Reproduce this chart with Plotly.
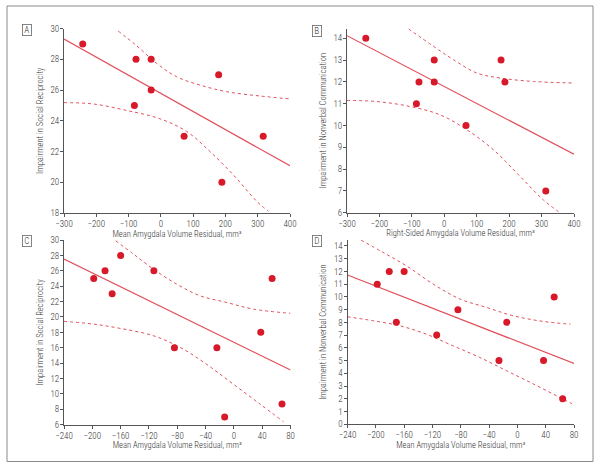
import plotly.graph_objects as go

# ---------------- data ----------------
A_x = [-242, -77, -30, -30, -82, 72, 179, 189, 317]
A_y = [29, 28, 28, 26, 25, 23, 27, 20, 23]
A_fit_x = [-300, 400]
A_fit_y = [29.31, 21.07]
A_up_x = [-132, -75, -13, 49, 121, 204, 307, 400]
A_up_y = [29.83, 28.88, 27.73, 26.86, 26.32, 25.89, 25.61, 25.42]
A_lo_x = [-300, -209, -106, -3, 80, 152, 224, 297, 333]
A_lo_y = [25.18, 25.09, 24.67, 24.13, 23.30, 22.0, 20.49, 18.76, 18.11]

B_x = [-242, -78, -86, -31, -31, 67, 175, 187, 313]
B_y = [14, 12, 11, 13, 12, 10, 13, 12, 7]
B_fit_x = [-300, 400]
B_fit_y = [14.12, 8.68]
B_up_x = [-110, -33, 28, 100, 172, 275, 400]
B_up_y = [14.43, 13.63, 13.02, 12.41, 12.18, 12.02, 11.95]
B_lo_x = [-300, -208, -105, -13, 70, 152, 234, 306, 352]
B_lo_y = [11.15, 11.10, 10.87, 10.49, 9.80, 8.88, 7.66, 6.58, 6.05]

C_x = [-198, -182, -172, -160, -113, -84, -24, -13, 38, 54, 68]
C_y = [25, 26, 23, 28, 26, 16, 16, 7, 18, 25, 8.7]
C_fit_x = [-240, 80]
C_fit_y = [27.53, 13.1]
C_up_x = [-167, -142, -114, -81, -48, -11, 27, 80]
C_up_y = [29.9, 28.18, 26.23, 24.28, 22.76, 21.9, 21.03, 20.47]
C_lo_x = [-240, -199, -161, -114, -76, -39, -1, 37, 70]
C_lo_y = [19.43, 19.08, 18.52, 17.57, 16.05, 13.88, 11.28, 8.68, 6.39]

D_x = [-198, -181, -160, -171, -114, -84, -26, -15, 37, 52, 64]
D_y = [11, 12, 12, 8, 7, 9, 5, 8, 5, 10, 2]
D_fit_x = [-240, 80]
D_fit_y = [11.72, 4.77]
D_up_x = [-221, -190, -157, -119, -81, -44, -6, 37, 75]
D_up_y = [14.47, 13.5, 12.45, 11.01, 9.83, 9.18, 8.52, 8.07, 7.86]
D_lo_x = [-240, -204, -166, -129, -91, -53, -15, 23, 60, 77]
D_lo_y = [8.44, 8.13, 7.73, 7.08, 6.16, 5.24, 4.19, 3.15, 2.1, 1.62]

panel_labels = ["A", "B", "C", "D"]
x_titles = [
    "Mean Amygdala Volume Residual, mm³",
    "Right-Sided Amygdala Volume Residual, mm³",
    "Mean Amygdala Volume Residual, mm³",
    "Mean Amygdala Volume Residual, mm³",
]
y_titles = [
    "Impairment in Social Reciprocity",
    "Impairment in Nonverbal Communication",
    "Impairment in Social Reciprocity",
    "Impairment in Nonverbal Communication",
]
A_xticks = [-300, -200, -100, 0, 100, 200, 300, 400]
A_yticks = [18, 20, 22, 24, 26, 28, 30]
B_yticks = [6, 7, 8, 9, 10, 11, 12, 13, 14]
C_xticks = [-240, -200, -160, -120, -80, -40, 0, 40, 80]
C_yticks = [6, 8, 10, 12, 14, 16, 18, 20, 22, 24, 26, 28, 30]
D_yticks = list(range(0, 15))

# ---------------- styling ----------------
FONT = "Roboto Condensed, Liberation Sans Narrow, Liberation Sans, sans-serif"
TXT = "#333333"
DOT = "#d7192a"
LINE = "#e0505a"
AX = "#555555"

W, H = 600, 468
def px_x(p):
    return p / W
def px_y(p):
    return 1 - p / H

def fnt(size):
    return dict(family=FONT, size=size, color=TXT, weight=300)

panels = [
    dict(pts=(A_x, A_y), fit=(A_fit_x, A_fit_y), up=(A_up_x, A_up_y), lo=(A_lo_x, A_lo_y),
         xr=[-300, 400], yr=[18, 30], xt=A_xticks, yt=A_yticks,
         dx=[px_x(64), px_x(290)], dy=[px_y(213), px_y(28.5)], lab=(27, 30)),
    dict(pts=(B_x, B_y), fit=(B_fit_x, B_fit_y), up=(B_up_x, B_up_y), lo=(B_lo_x, B_lo_y),
         xr=[-300, 400], yr=[6, 14.45], xt=A_xticks, yt=B_yticks,
         dx=[px_x(347), px_x(574)], dy=[px_y(212.7), px_y(28.5)], lab=(317, 31)),
    dict(pts=(C_x, C_y), fit=(C_fit_x, C_fit_y), up=(C_up_x, C_up_y), lo=(C_lo_x, C_lo_y),
         xr=[-240, 80], yr=[6, 30], xt=C_xticks, yt=C_yticks,
         dx=[px_x(64), px_x(290.5)], dy=[px_y(424.7), px_y(240)], lab=(27, 241)),
    dict(pts=(D_x, D_y), fit=(D_fit_x, D_fit_y), up=(D_up_x, D_up_y), lo=(D_lo_x, D_lo_y),
         xr=[-240, 80], yr=[0, 14.47], xt=C_xticks, yt=D_yticks,
         dx=[px_x(347.5), px_x(574)], dy=[px_y(424.2), px_y(240)], lab=(317, 241)),
]

fig = go.Figure()
layout = {}
annotations = []
for i, p in enumerate(panels):
    n = "" if i == 0 else str(i + 1)
    xa, ya = "x" + n, "y" + n
    for band in (p["up"], p["lo"]):
        fig.add_trace(go.Scatter(x=band[0], y=band[1], mode="lines", xaxis=xa, yaxis=ya,
                                 line=dict(color=LINE, width=1, dash="3px,3px", shape="spline"),
                                 showlegend=False, hoverinfo="skip"))
    fig.add_trace(go.Scatter(x=p["fit"][0], y=p["fit"][1], mode="lines", xaxis=xa, yaxis=ya,
                             line=dict(color=LINE, width=1.2), showlegend=False))
    fig.add_trace(go.Scatter(x=p["pts"][0], y=p["pts"][1], mode="markers", xaxis=xa, yaxis=ya,
                             marker=dict(color=DOT, size=7), showlegend=False))
    common = dict(showgrid=False, zeroline=False, showline=True, linecolor=AX, linewidth=1,
                  ticks="outside", ticklen=3, tickcolor=AX, tickwidth=1,
                  automargin=False, tickfont=fnt(9))
    layout["xaxis" + n] = dict(common, domain=p["dx"], range=p["xr"], tickmode="array",
                               tickvals=p["xt"], anchor=ya, ticklabelstandoff=-1,
                               title=dict(text=x_titles[i], standoff=0, font=fnt(8.5)))
    layout["yaxis" + n] = dict(common, domain=p["dy"], range=p["yr"], tickmode="array",
                               tickvals=p["yt"], anchor=xa, ticklabelstandoff=-1,
                               title=dict(text=y_titles[i], standoff=5, font=fnt(8.5)))
    annotations.append(dict(text=panel_labels[i], xref="paper", yref="paper",
                            x=px_x(p["lab"][0]), y=px_y(p["lab"][1]), showarrow=False,
                            xanchor="center", yanchor="middle", width=7, height=9,
                            font=fnt(9),
                            bordercolor="#666666", borderwidth=0.8, borderpad=0.5,
                            bgcolor="white"))

fig.update_layout(
    width=W, height=H, margin=dict(l=0, r=0, t=0, b=0, autoexpand=False),
    paper_bgcolor="white", plot_bgcolor="white",
    annotations=annotations,
    shapes=[dict(type="rect", xref="paper", yref="paper",
                 x0=px_x(7), x1=px_x(593), y0=px_y(461.5), y1=px_y(6),
                 line=dict(color="#8a8a8a", width=1))],
    **layout,
)
fig.write_html("out.html", config={"displayModeBar": False},
               post_script="document.body.style.margin='0';")
